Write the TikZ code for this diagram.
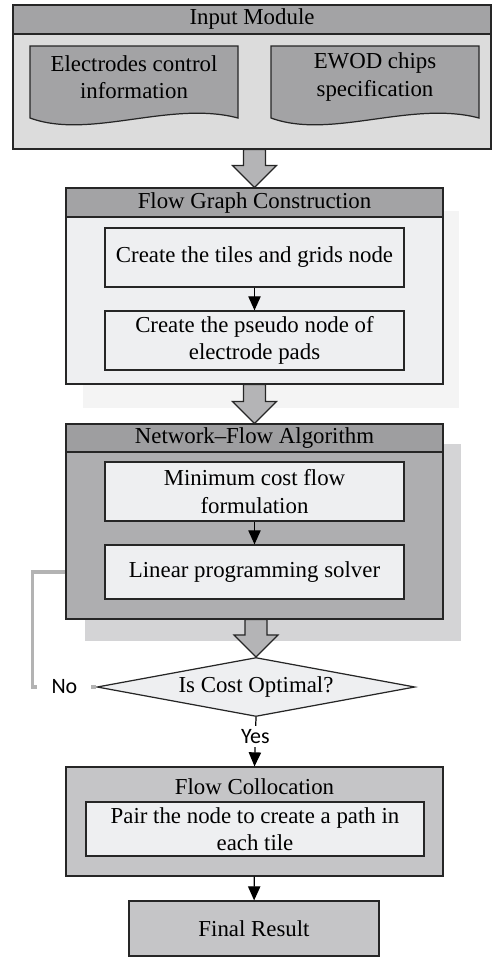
\documentclass[tikz,border=0pt]{standalone}
\usepackage{fontspec}
\setmainfont{Liberation Serif}
\newfontfamily\yesnofont{Carlito}
\usetikzlibrary{arrows.meta,positioning,calc,shapes.geometric}
\definecolor{hdgray}{HTML}{A3A3A5}
\definecolor{inbody}{HTML}{DCDCDC}
\definecolor{lightfill}{HTML}{EEEFF1}
\definecolor{netbody}{HTML}{AEAEB0}
\definecolor{nethd}{HTML}{9E9EA0}
\definecolor{netshadow}{HTML}{D4D4D6}
\definecolor{fgshadow}{HTML}{F4F4F4}
\definecolor{arrgray}{HTML}{B4B4B6}
\definecolor{collgray}{HTML}{C5C5C7}
\definecolor{nogray}{HTML}{B3B3B3}

\tikzset{
  panel/.style={draw=black!85, line width=0.7pt, inner sep=0pt},
  stepbox/.style={panel, fill=lightfill, align=center},
  docshape/.style={draw=black!85, line width=0.7pt, fill=hdgray},
  bigarr/.style={draw=black!85, line width=0.7pt, fill=arrgray},
  flowline/.style={->, line width=0.7pt},
  noline/.style={nogray, line width=1.8pt},
  yesno/.style={font=\yesnofont\fontsize{12.5}{14}\selectfont, fill=white, inner sep=2pt}
}

% big block arrow from one box down to the next
\newcommand{\bigarrow}[2]{%
  \draw[bigarr] let \p1=(#1.south), \p2=(#2.north) in
    (\x2-0.22cm,\y1) -- (\x2-0.22cm,\y2+0.44cm) -- (\x2-0.44cm,\y2+0.44cm)
    -- (\x2,\y2) -- (\x2+0.44cm,\y2+0.44cm) -- (\x2+0.22cm,\y2+0.44cm)
    -- (\x2+0.22cm,\y1) -- cycle;}

\begin{document}
\begin{tikzpicture}[x=0.02cm,y=-0.02cm, font=\fontsize{13}{15.5}\selectfont,
  >={Triangle[width=7pt,length=8pt]}]
  \useasboundingbox (0,0) rectangle (491,958);

  % input module
  \node[panel, fill=inbody, minimum width=9.56cm, minimum height=2.88cm] (input) at (252,77) {};
  \node[panel, fill=hdgray, minimum width=9.56cm, minimum height=0.58cm] (inputhd) at (252,19.5) {Input Module};
  \filldraw[docshape] (30,118) -- (30,46) -- (238,46) -- (238,118) .. controls (170,100) and (90,140) .. cycle;
  \filldraw[docshape] (271,118) -- (271,46) -- (479,46) -- (479,118) .. controls (411,100) and (331,140) .. cycle;
  \node[align=center] (elec) at (134,77) {Electrodes control\\information};
  \node[align=center] (ewod) at (375,77) {EWOD chips\\specification};

  % flow graph construction
  \fill[fgshadow] (83,211) rectangle (459,408);
  \node[panel, fill=lightfill, minimum width=7.54cm, minimum height=3.92cm] (fgc) at (254.5,286) {};
  \node[panel, fill=hdgray, minimum width=7.54cm, minimum height=0.58cm] (fgchd) at (254.5,202.5) {Flow Graph Construction};
  \node[stepbox, minimum width=5.98cm, minimum height=1.18cm] (tiles) at (254.5,257.5) {Create the tiles and grids node};
  \node[stepbox, minimum width=5.98cm, minimum height=1.18cm] (pseudo) at (254.5,340.5) {Create the pseudo node of\\electrode pads};
  \draw[flowline] (tiles) -- (pseudo);

  % network-flow algorithm
  \fill[netshadow] (85,444) rectangle (461,641);
  \node[panel, fill=netbody, minimum width=7.54cm, minimum height=3.9cm] (net) at (254.5,521.5) {};
  \node[panel, fill=nethd, minimum width=7.54cm, minimum height=0.56cm] (nethd) at (254.5,438) {Network--Flow Algorithm};
  \node[stepbox, minimum width=5.98cm, minimum height=1.18cm] (mincost) at (254.5,491.5) {Minimum cost flow\\formulation};
  \node[stepbox, minimum width=5.98cm, minimum height=1.08cm] (solver) at (254.5,572) {Linear programming solver};
  \draw[flowline] (mincost) -- (solver);

  % decision
  \node[draw=black!85, line width=0.7pt, fill=lightfill, shape=diamond, aspect=5.4, inner sep=0pt,
        minimum width=6.36cm, minimum height=1.18cm] (check) at (256,687) {Is Cost Optimal?};

  \bigarrow{input}{fgc}
  \bigarrow{fgc}{net}
  \bigarrow{net}{check}

  \draw[noline] (net.west |- solver) -- ++(-33,0) |- node[pos=0.75, yesno, fill=white, inner xsep=8pt, text=black] {No} (check.west);

  % flow collocation
  \node[panel, fill=collgray, minimum width=7.54cm, minimum height=2.18cm] (colloc) at (254.5,821.5) {};
  \node (colltitle) at (254.5,787) {Flow Collocation};
  \node[stepbox, minimum width=6.76cm, minimum height=1.08cm] (pair) at (255,829) {Pair the node to create a path in\\each tile};
  \draw[flowline] (check.south) -- node[pos=0.4, yesno] {Yes} (colloc.north);

  \node[panel, fill=collgray, minimum width=5cm, minimum height=1.1cm] (final) at (254,928.5) {Final Result};
  \draw[flowline] (colloc) -- (final);
\end{tikzpicture}
\end{document}
